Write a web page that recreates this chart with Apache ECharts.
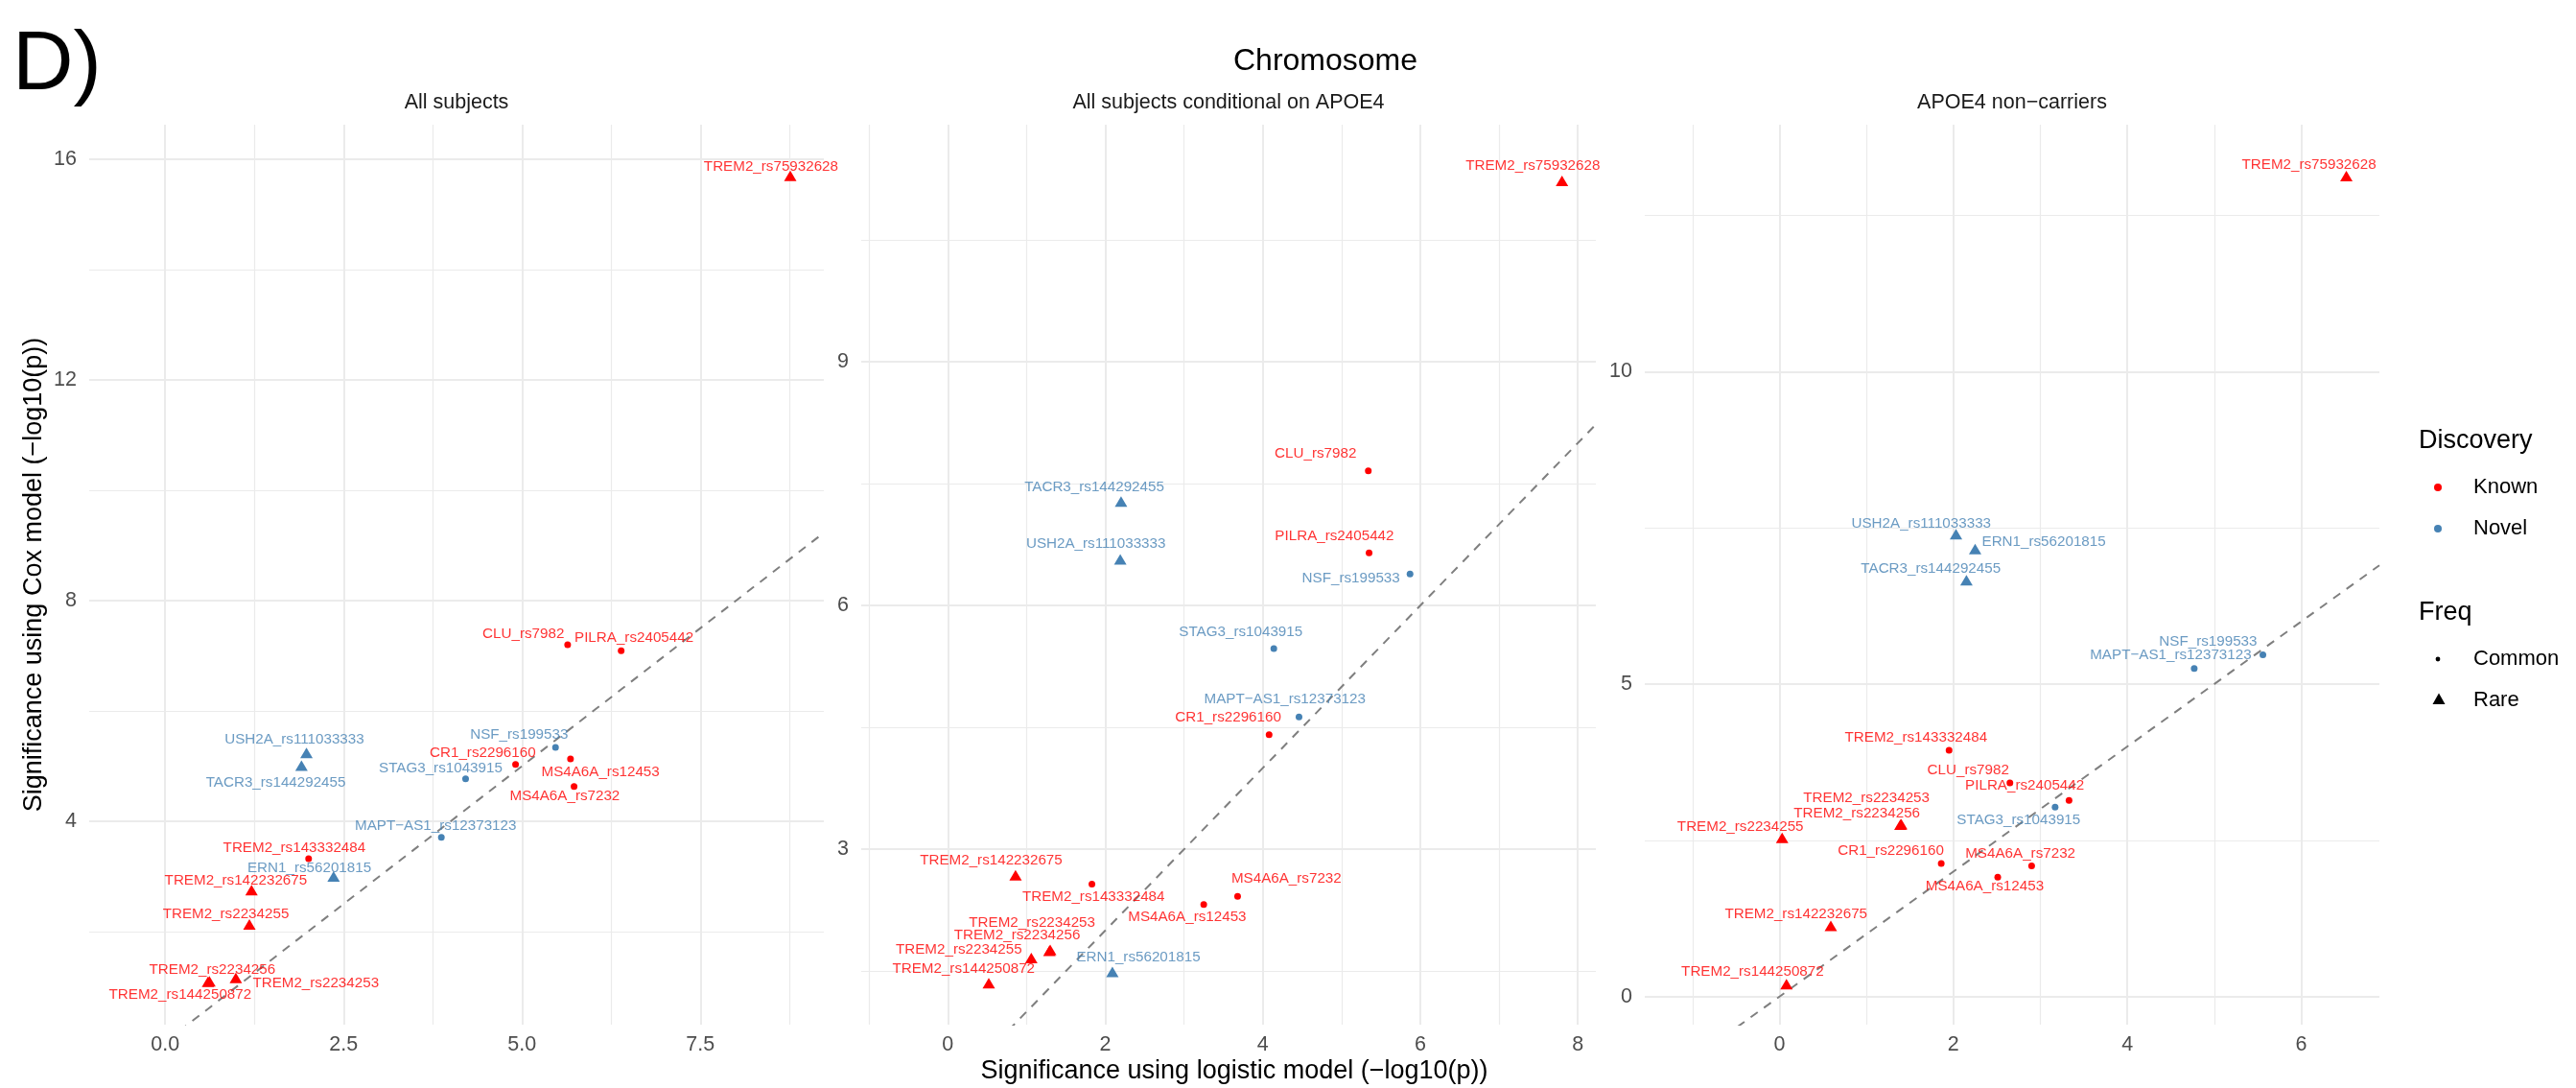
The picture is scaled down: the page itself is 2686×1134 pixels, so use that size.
<!DOCTYPE html>
<html><head><meta charset="utf-8">
<script src="https://cdn.jsdelivr.net/npm/echarts@6/dist/echarts.min.js"></script>
<style>html,body{margin:0;padding:0;background:#fff}#chart{width:2686px;height:1134px}</style>
</head><body><div id="chart"></div>
<script>
// ---------------- data ----------------
const snpNames = ['TREM2_rs75932628','CLU_rs7982','PILRA_rs2405442','USH2A_rs111033333','TACR3_rs144292455','NSF_rs199533','CR1_rs2296160','MS4A6A_rs12453','STAG3_rs1043915','MS4A6A_rs7232','MAPT\u2212AS1_rs12373123','TREM2_rs143332484','ERN1_rs56201815','TREM2_rs142232675','TREM2_rs2234255','TREM2_rs2234256','TREM2_rs2234253','TREM2_rs144250872'];
const discovery = ['Known','Known','Known','Novel','Novel','Novel','Known','Known','Novel','Known','Novel','Known','Novel','Known','Known','Known','Known','Known'];
const frequency = ['Rare','Common','Common','Rare','Rare','Common','Common','Common','Common','Common','Common','Common','Rare','Rare','Rare','Rare','Rare','Rare'];

// All subjects: logistic (x) vs Cox (y)
const allLogistic = [8.76,5.64,6.39,1.98,1.91,5.47,4.91,5.68,4.21,5.73,3.87,2.01,2.36,1.21,1.18,0.62,0.99,0.60];
const allCox      = [15.70,7.20,7.09,5.24,5.01,5.34,5.03,5.13,4.77,4.63,3.71,3.32,3.00,2.75,2.13,1.10,1.16,1.09];
// All subjects conditional on APOE4
const condLogistic = [7.80,5.34,5.35,2.19,2.20,5.87,4.08,3.25,4.14,3.68,4.46,1.83,2.09,0.86,1.06,1.29,1.30,0.52];
const condCox      = [11.23,7.66,6.65,6.57,7.28,6.39,4.41,2.32,5.47,2.42,4.63,2.57,1.49,2.68,1.66,1.75,1.76,1.35];
// APOE4 non-carriers
const nonLogistic = [6.52,2.65,3.33,2.03,2.15,5.56,1.86,2.51,3.17,2.90,4.77,1.95,2.25,0.59,0.03,1.39,1.40,0.08];
const nonCox      = [13.13,3.42,3.14,7.40,6.66,5.47,2.13,1.91,3.03,2.09,5.25,3.94,7.16,1.13,2.54,2.75,2.76,0.20];

// label anchor positions (data units, as placed by the repel layout in the picture)
const allLabelX = [8.49,5.02,6.57,1.81,1.55,4.96,4.45,6.10,3.86,5.60,3.79,1.81,2.02,0.99,0.85,0.66,2.11,0.21];
const allLabelY = [15.87,7.40,7.32,5.49,4.70,5.56,5.24,4.89,4.96,4.46,3.92,3.52,3.15,2.92,2.31,1.31,1.07,0.85];
const condLabelX = [7.43,4.67,4.91,1.88,1.86,5.12,3.56,3.04,3.72,4.30,4.28,1.85,2.42,0.55,0.14,0.88,1.07,0.20];
const condLabelY = [11.42,7.87,6.85,6.76,7.46,6.34,4.62,2.17,5.67,2.64,4.85,2.41,1.67,2.86,1.76,1.94,2.10,1.53];
const nonLabelX = [6.09,2.17,2.82,1.63,1.74,4.93,1.28,2.36,2.75,2.77,4.50,1.57,3.04,0.19,-0.45,0.89,1.00,-0.31];
const nonLabelY = [13.31,3.62,3.37,7.57,6.85,5.68,2.33,1.76,2.83,2.29,5.46,4.15,7.27,1.32,2.72,2.93,3.18,0.40];

// tick values
const allXTicks = [0,2.5,5,7.5], allXMinor = [1.25,3.75,6.25,8.75];
const allYTicks = [4,8,12,16], allYMinor = [2,6,10,14];
const condXTicks = [0,2,4,6,8], condXMinor = [-1,1,3,5,7];
const condYTicks = [3,6,9], condYMinor = [1.5,4.5,7.5,10.5];
const nonXTicks = [0,2,4,6], nonXMinor = [-1,1,3,5];
const nonYTicks = [0,5,10], nonYMinor = [2.5,7.5,12.5];

const panelTitles = ['All subjects','All subjects conditional on APOE4','APOE4 non\u2212carriers'];

// ---------------- layout / style ----------------
const FONT = '"Liberation Sans", Arial, Helvetica, sans-serif';
const colorOf = d => d === 'Known' ? '#FF0000' : '#4682B4';
const GRID_TOP = 130, GRID_H = 938, GRID_W = 766;
const panels = [
  {x: allLogistic, y: allCox, lx: allLabelX, ly: allLabelY, xr: [-1.065, 9.23], yr: [0.313, 16.626],
   xt: allXTicks, xm: allXMinor, yt: allYTicks, ym: allYMinor, xd: 1, left: 93},
  {x: condLogistic, y: condCox, lx: condLabelX, ly: condLabelY, xr: [-1.10, 8.23], yr: [0.84, 11.92],
   xt: condXTicks, xm: condXMinor, yt: condYTicks, ym: condYMinor, xd: 0, left: 898},
  {x: nonLogistic, y: nonCox, lx: nonLabelX, ly: nonLabelY, xr: [-1.55, 6.90], yr: [-0.45, 13.95],
   xt: nonXTicks, xm: nonXMinor, yt: nonYTicks, ym: nonYMinor, xd: 0, left: 1715}
];

const grids = [], xAxes = [], yAxes = [], series = [], graphics = [];
const GRIDC = '#EBEBEB';
panels.forEach((p, i) => {
  grids.push({left: p.left, top: GRID_TOP, width: GRID_W, height: GRID_H, containLabel: false, outerBoundsMode: 'none'});
  const labStyle = {color: '#4D4D4D', fontSize: 21.5, fontFamily: FONT};
  xAxes.push({gridIndex: i, type: 'value', min: p.xr[0], max: p.xr[1], position: 'bottom',
    axisLine: {show: false}, axisTick: {show: false, customValues: p.xt},
    axisLabel: Object.assign({customValues: p.xt, margin: 10, formatter: v => Number(v).toFixed(p.xd)}, labStyle),
    splitLine: {show: true, lineStyle: {color: GRIDC, width: 2}}});
  xAxes.push({gridIndex: i, type: 'value', min: p.xr[0], max: p.xr[1], position: 'top',
    axisLine: {show: false}, axisTick: {show: false, customValues: p.xm},
    axisLabel: {show: false}, splitLine: {show: true, lineStyle: {color: GRIDC, width: 1.2}}});
  yAxes.push({gridIndex: i, type: 'value', min: p.yr[0], max: p.yr[1], position: 'left',
    axisLine: {show: false}, axisTick: {show: false, customValues: p.yt},
    axisLabel: Object.assign({customValues: p.yt, margin: 13, formatter: v => String(Math.round(v))}, labStyle),
    splitLine: {show: true, lineStyle: {color: GRIDC, width: 2}}});
  yAxes.push({gridIndex: i, type: 'value', min: p.yr[0], max: p.yr[1], position: 'right',
    axisLine: {show: false}, axisTick: {show: false, customValues: p.ym},
    axisLabel: {show: false}, splitLine: {show: true, lineStyle: {color: GRIDC, width: 1.2}}});

  // identity reference line y = x across the panel's x range
  series.push({type: 'line', xAxisIndex: 2 * i, yAxisIndex: 2 * i, clip: true, silent: true,
    symbol: 'none', data: [[p.xr[0], p.xr[0]], [p.xr[1], p.xr[1]]],
    lineStyle: {color: '#7F7F7F', width: 2, type: [9, 8]}, z: 2});
  // points
  series.push({type: 'scatter', xAxisIndex: 2 * i, yAxisIndex: 2 * i, silent: true, z: 3,
    data: snpNames.map((n, k) => ({name: n, value: [p.x[k], p.y[k]],
      symbol: frequency[k] === 'Rare' ? 'triangle' : 'circle',
      symbolSize: frequency[k] === 'Rare' ? [13, 11] : 7,
      itemStyle: {color: colorOf(discovery[k]), opacity: 1}}))});
  // labels
  series.push({type: 'scatter', xAxisIndex: 2 * i, yAxisIndex: 2 * i, silent: true, z: 4,
    symbolSize: 0,
    label: {show: true, position: 'inside', formatter: '{b}', fontSize: 15.2, fontFamily: FONT},
    data: snpNames.map((n, k) => ({name: n, value: [p.lx[k], p.ly[k]],
      label: {color: colorOf(discovery[k])}}))});

  graphics.push({type: 'text', x: p.left + GRID_W / 2, y: 107,
    style: {text: panelTitles[i], font: '21.5px ' + FONT, fill: '#1A1A1A', textAlign: 'center', textVerticalAlign: 'middle'}});
});

// titles
graphics.push({type: 'text', x: 13, y: 69, style: {text: 'D)', font: '88px ' + FONT, fill: '#000', textAlign: 'left', textVerticalAlign: 'middle'}});
graphics.push({type: 'text', x: 1382, y: 64, style: {text: 'Chromosome', font: '32px ' + FONT, fill: '#000', textAlign: 'center', textVerticalAlign: 'middle'}});
graphics.push({type: 'text', x: 1287, y: 1117, style: {text: 'Significance using logistic model (\u2212log10(p))', font: '27px ' + FONT, fill: '#000', textAlign: 'center', textVerticalAlign: 'middle'}});
graphics.push({type: 'text', x: 36, y: 599, rotation: Math.PI / 2, style: {text: 'Significance using Cox model (\u2212log10(p))', font: '27px ' + FONT, fill: '#000', textAlign: 'center', textVerticalAlign: 'middle'}});

// legend
const legendText = (t, y, size) => ({type: 'text', x: size > 24 ? 2522 : 2579, y: y,
  style: {text: t, font: size + 'px ' + FONT, fill: '#000', textAlign: 'left', textVerticalAlign: 'middle'}});
graphics.push(legendText('Discovery', 460, 27));
graphics.push({type: 'circle', shape: {cx: 2542, cy: 508, r: 4}, style: {fill: colorOf('Known')}});
graphics.push(legendText('Known', 508, 22));
graphics.push({type: 'circle', shape: {cx: 2542, cy: 551, r: 4}, style: {fill: colorOf('Novel')}});
graphics.push(legendText('Novel', 551, 22));
graphics.push(legendText('Freq', 639, 27));
graphics.push({type: 'circle', shape: {cx: 2542, cy: 687, r: 2.4}, style: {fill: '#000'}});
graphics.push(legendText('Common', 687, 22));
graphics.push({type: 'polygon', shape: {points: [[2543, 722.5], [2549.5, 734], [2536.5, 734]]}, style: {fill: '#000'}});
graphics.push(legendText('Rare', 730, 22));

const chart = echarts.init(document.getElementById('chart'), null, {renderer: 'canvas'});
chart.setOption({
  animation: false,
  backgroundColor: '#FFFFFF',
  textStyle: {fontFamily: FONT},
  grid: grids, xAxis: xAxes, yAxis: yAxes, series: series, graphic: graphics
});
</script></body></html>
